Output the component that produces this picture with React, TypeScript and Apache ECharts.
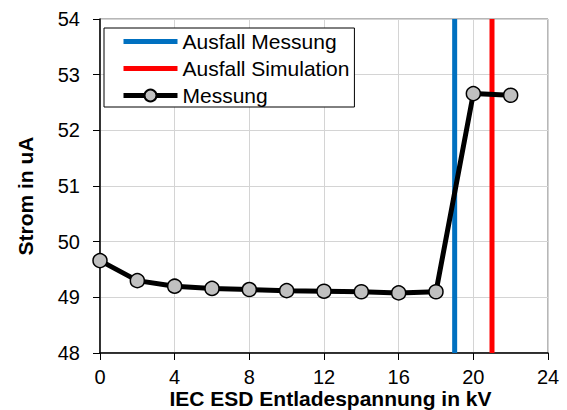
import React, { useEffect, useRef } from "react";
import * as echarts from "echarts";

const voltages = [0, 2, 4, 6, 8, 10, 12, 14, 16, 18, 20, 22];
const current = [49.66, 49.3, 49.2, 49.16, 49.14, 49.12, 49.11, 49.1, 49.08, 49.1, 52.66, 52.63];
const failMeasure = 19;
const failSimulation = 21;
const yMin = 48;
const yMax = 54;
const xMin = 0;
const xMax = 24;
const seriesNames = ["Ausfall Messung", "Ausfall Simulation", "Messung"];
const xTitle = "IEC ESD Entladespannung in kV";
const yTitle = "Strom in uA";

const FONT = "'Liberation Sans', Arial, sans-serif";

export default function App() {
  const ref = useRef<HTMLDivElement>(null);
  useEffect(() => {
    document.body.style.margin = "0";
    if (!ref.current) return;
    const chart = echarts.init(ref.current, undefined, { renderer: "svg" });
    chart.setOption({
      animation: false,
      backgroundColor: "#fff",
      grid: {
        left: 100,
        right: 19,
        top: 19,
        bottom: 57,
        show: true,
        borderColor: "#6e6e6e",
        borderWidth: 1,
      },
      legend: {
        orient: "vertical",
        left: 104,
        top: 28,
        padding: [3, 5, 1, 17],
        itemWidth: 54,
        itemHeight: 15,
        itemGap: 6,
        itemTextGap: 4,
        borderColor: "#000",
        borderWidth: 1,
        backgroundColor: "#fff",
        lineStyle: { width: 5 },
        textStyle: { fontFamily: FONT, fontSize: 21, color: "#000" },
        data: [
          { name: seriesNames[0], itemStyle: { opacity: 0 } },
          { name: seriesNames[1], itemStyle: { opacity: 0 } },
          { name: seriesNames[2] },
        ],
      },
      xAxis: {
        type: "value",
        min: xMin,
        max: xMax,
        interval: 4,
        axisLine: { show: true, onZero: false, lineStyle: { color: "#000", width: 1.5 } },
        axisTick: { show: true, length: 7, lineStyle: { color: "#000" } },
        axisLabel: { fontFamily: FONT, fontSize: 20, color: "#000", margin: 14 },
        splitLine: { show: true, lineStyle: { color: "#d4d4d4", width: 1 } },
      },
      yAxis: {
        type: "value",
        min: yMin,
        max: yMax,
        interval: 1,
        axisLine: { show: true, onZero: false, lineStyle: { color: "#000", width: 1.5 } },
        axisTick: { show: true, length: 7, lineStyle: { color: "#000" } },
        axisLabel: { fontFamily: FONT, fontSize: 20, color: "#000", margin: 20 },
        splitLine: { show: true, lineStyle: { color: "#d4d4d4", width: 1 } },
      },
      graphic: [
        {
          type: "text",
          x: 25,
          y: 196,
          rotation: Math.PI / 2,
          style: {
            text: yTitle,
            fontFamily: FONT,
            fontSize: 21,
            fontWeight: "bold",
            fill: "#000",
            align: "center",
            verticalAlign: "middle",
          },
        },
        {
          type: "text",
          x: 330.5,
          y: 398,
          style: {
            text: xTitle,
            fontFamily: FONT,
            fontSize: 21,
            fontWeight: "bold",
            fill: "#000",
            align: "center",
            verticalAlign: "middle",
          },
        },
      ],
      series: [
        {
          name: seriesNames[0],
          type: "line",
          symbol: "none",
          data: [
            [failMeasure, yMin],
            [failMeasure, yMax],
          ],
          lineStyle: { color: "#0070c0", width: 5 },
          itemStyle: { color: "#0070c0" },
          z: 2,
        },
        {
          name: seriesNames[1],
          type: "line",
          symbol: "none",
          data: [
            [failSimulation, yMin],
            [failSimulation, yMax],
          ],
          lineStyle: { color: "#ff0000", width: 5 },
          itemStyle: { color: "#ff0000" },
          z: 2,
        },
        {
          name: seriesNames[2],
          type: "line",
          symbol: "circle",
          symbolSize: 14,
          data: voltages.map((v, i) => [v, current[i]]),
          lineStyle: { color: "#000", width: 5 },
          itemStyle: { color: "#c0c0c0", borderColor: "#000", borderWidth: 1.5 },
          z: 3,
        },
      ],
    });
    return () => chart.dispose();
  }, []);
  return <div ref={ref} style={{ width: 567, height: 410 }} />;
}
